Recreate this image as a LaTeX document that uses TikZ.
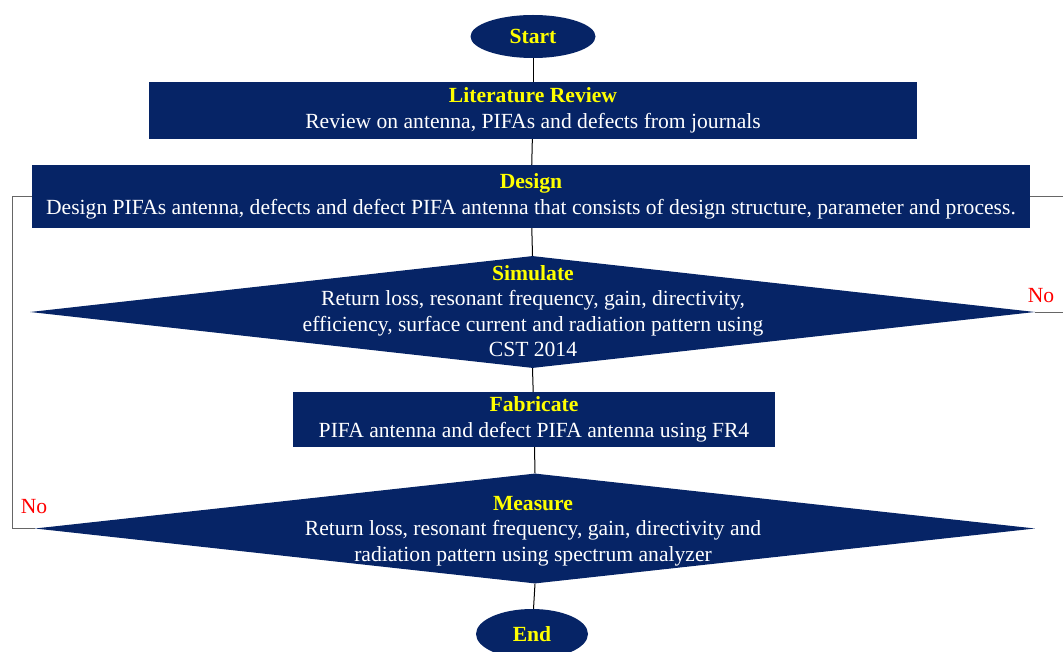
\documentclass[tikz,border=0pt]{standalone}
\usepackage{fontspec}
\setmainfont{Liberation Serif}
\usepackage{xcolor}
\usetikzlibrary{backgrounds,shapes,shapes.geometric,positioning}
\pgfdeclarelayer{edgelayer}
\pgfdeclarelayer{nodelayer}
\pgfsetlayers{background,edgelayer,nodelayer,main}
\definecolor{navy}{RGB}{6,36,102}
\definecolor{titleyellow}{RGB}{255,255,0}
\newcommand{\stagetitle}[1]{{\color{titleyellow}\bfseries #1}}
\newcommand{\flowfont}{\fontsize{21.6}{25.5}\selectfont}
\tikzstyle{none}=[inner sep=0mm]
\tikzstyle{terminal}=[shape=ellipse,fill=navy,draw=none,inner sep=0pt,font=\flowfont\bfseries,text=titleyellow]
\tikzstyle{process}=[rectangle,fill=navy,draw=none,text=white,align=center,inner sep=0pt,font=\flowfont]
\tikzstyle{decision}=[shape=diamond,fill=navy,draw=none,inner sep=0pt,aspect=9]
\tikzstyle{decision text}=[none,text=white,align=center,font=\flowfont]
\tikzstyle{flow}=[draw=black,line width=1pt]
\tikzstyle{back flow}=[draw=black!60,line width=0.9pt]
\tikzstyle{no label}=[none,text=red,font=\flowfont]

\begin{document}
\begin{tikzpicture}[x=1pt,y=-1pt]
	\useasboundingbox (0,0) rectangle (1063,652);
	\begin{pgfonlayer}{nodelayer}
		\node [style=terminal,minimum width=125pt,minimum height=43pt] (start) at (533, 36.5) {Start};
		\node [style=process,minimum width=768pt,minimum height=57pt] (lit) at (533, 110.5) {\stagetitle{Literature Review}\\Review on antenna, PIFAs and defects from journals};
		\node [style=process,minimum width=998pt,minimum height=63pt] (design) at (531, 196.5) {\stagetitle{Design}\\Design PIFAs antenna, defects and defect PIFA antenna that consists of design structure, parameter and process.};
		\node [style=decision,minimum width=1005pt,minimum height=112pt] (sim) at (532.5, 312) {};
		\node [style={decision text}] (simtext) at (533, 311) {\stagetitle{Simulate}\\Return loss, resonant frequency, gain, directivity,\\efficiency, surface current and radiation pattern using\\CST 2014};
		\node [style=process,minimum width=482pt,minimum height=55pt] (fab) at (534, 419.5) {\stagetitle{Fabricate}\\PIFA antenna and defect PIFA antenna using FR4};
		\node [style=decision,minimum width=1000pt,minimum height=110pt] (meas) at (535, 528.5) {};
		\node [style={decision text}] (meastext) at (533, 531) {\stagetitle{Measure}\\Return loss, resonant frequency, gain, directivity and\\radiation pattern using spectrum analyzer};
		\node [style=terminal,minimum width=112pt,minimum height=50pt] (end) at (532, 634) {End};
		\node [style={no label}] (noright) at (1041, 296) {No};
		\node [style={no label}] (noleft) at (34, 507) {No};
		\coordinate (l1) at (12, 196.5);
		\coordinate (l2) at (12, 528.5);
		\coordinate (r1) at (1063, 196.5);
		\coordinate (r2) at (1063, 312);
	\end{pgfonlayer}
	\begin{pgfonlayer}{edgelayer}
		\draw [style=flow] (start) to (lit);
		\draw [style=flow] (lit) to (design);
		\draw [style=flow] (design) to (sim.north);
		\draw [style=flow] (sim.south) to (fab);
		\draw [style=flow] (fab) to (meas.north);
		\draw [style=flow] (meas.south) to (end);
		\draw [style={back flow}] (design.west) to (l1) to (l2) to (meas.west);
		\draw [style={back flow}] (design.east) to (r1);
		\draw [style={back flow}] (sim.east) to (r2);
	\end{pgfonlayer}
\end{tikzpicture}
\end{document}
